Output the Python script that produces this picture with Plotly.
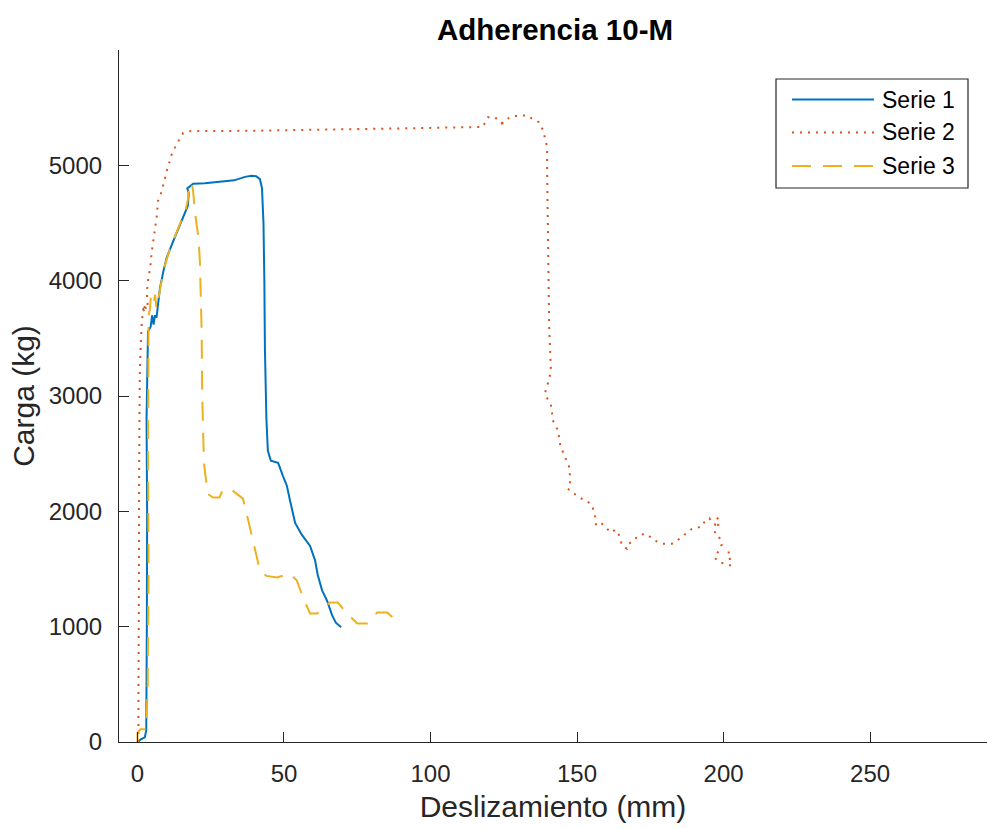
import plotly.graph_objects as go

# ---- data ----
s1_x = [0, 1, 2.5, 3.0, 3.2, 3.3, 3.1, 3.3, 3.6, 4.5, 5.0, 5.5, 6.0, 6.5, 7.0, 7.7, 9, 10, 12, 14, 16, 17.2, 17.5,
        17.0, 18, 19, 23, 30, 33, 36.7, 39, 40.5, 41.8, 42.5, 43, 43.3, 43.5, 44, 44.5, 45.5, 48, 49.6, 51, 52,
        53.8, 56, 58.9, 60.6, 61.5, 63, 64.7, 66.4, 67.7, 69.5]
s1_y = [0, 20, 40, 100, 1000, 2000, 2800, 3300, 3560, 3600, 3700, 3620, 3700, 3680, 3800, 3940, 4100, 4200, 4330,
        4450, 4580, 4650, 4760, 4800, 4820, 4840, 4845, 4860, 4870, 4900, 4910, 4905, 4880, 4800, 4500, 4000, 3400,
        2800, 2525, 2440, 2420, 2310, 2220, 2100, 1900, 1800, 1700, 1575, 1450, 1315, 1225, 1100, 1035, 995]

s2_x = [0.3, 0.3, 0.5, 0.6, 0.8, 1.2, 1.5, 2.0, 1.5, 2.5, 3.0, 2.2, 3.5, 3.2, 3.7, 4.3, 4.9, 6.0, 6.6, 7.0, 8.3,
        10, 11.7, 13.4, 15.6, 17.9, 40, 87.2, 110, 117.8, 119.6, 122, 123.5, 125.4, 124.5, 126, 127.8, 130, 132.7,
        135, 137, 138.4, 139, 139.8, 139.8, 140, 140.2, 140.5, 141.1, 140.5, 139, 141.1, 141.8, 143.5, 144.3,
        145.3, 146.4, 147.4, 147.7, 146.8, 148.9, 151.6, 154.8, 156.1, 156.5, 158.5, 159.9, 161.6, 163, 164,
        165.4, 167, 167.5, 169.1, 170.8, 173.2, 174.9, 176.6, 179.3, 182.4, 184.1, 186.9, 189.3, 192.7, 193.7,
        195.2, 196, 197.1, 197.7, 198.8, 196.9, 198.8, 199.4, 198.2, 196.9, 198.6, 200.9, 202.6, 202.2, 201.3,
        203.3]
s2_y = [0, 500, 1500, 2500, 3200, 3500, 3650, 3750, 3780, 3720, 3800, 3760, 3780, 3900, 4026, 4100, 4257, 4430,
        4560, 4690, 4776, 4950, 5097, 5184, 5281, 5296, 5300, 5319, 5330, 5333, 5417, 5417, 5380, 5339, 5370,
        5400, 5425, 5430, 5434, 5400, 5374, 5305, 5235, 5157, 4950, 4500, 4000, 3600, 3217, 3150, 3020, 2917,
        2787, 2700, 2569, 2510, 2440, 2379, 2258, 2198, 2155, 2110, 2065, 1979, 1875, 1892, 1858, 1815, 1840,
        1820, 1703, 1676, 1720, 1737, 1789, 1806, 1780, 1746, 1720, 1720, 1746, 1806, 1850, 1867, 1919, 1940,
        1902, 1885, 1945, 1920, 1807, 1764, 1712, 1651, 1599, 1558, 1539, 1530, 1584, 1642, 1642]

s3_x = [0, 0, 1, 3, 3.5, 3.8, 3.6, 3.7, 3.8, 4.3, 4.5, 5.5, 6.0, 6.5, 7.5, 7.7, 9, 11, 13, 15, 16.5, 17.2, 17.5,
        17.8, 18.6, 19.0, 19.6, 20.8, 21.3, 21.7, 21.9, 22.1, 22.7, 24.0, 25.8, 28, 29, 31.6, 34, 36, 38, 40.8,
        41.8, 44, 47.6, 52, 54.4, 56.5, 58.9, 61.3, 63, 65.7, 68.4, 71.5, 75, 78.4, 81.8, 85.2, 87.2]
s3_y = [0, 80, 110, 110, 500, 1500, 2500, 3300, 3700, 3760, 3850, 3780, 3880, 3760, 3900, 3950, 4100, 4270, 4400,
        4530, 4620, 4700, 4780, 4850, 4840, 4775, 4600, 4372, 4170, 3885, 3565, 3000, 2413, 2150, 2119, 2120,
        2180, 2197, 2150, 2110, 1900, 1600, 1487, 1440, 1427, 1461, 1400, 1253, 1114, 1114, 1160, 1209, 1209,
        1114, 1028, 1028, 1123, 1123, 1080]

series_names = ["Serie 1", "Serie 2", "Serie 3"]
colors = ["#0072BD", "#D95319", "#EDB120"]
dashes = ["solid", "2px,6px", "19px,12px"]

x_ticks = [0, 50, 100, 150, 200, 250]
y_ticks = [0, 1000, 2000, 3000, 4000, 5000]

FONT = "Liberation Sans, Arial, Helvetica, sans-serif"
AX = "#262626"

fig = go.Figure()
for xs, ys, name, c, d in zip([s1_x, s2_x, s3_x], [s1_y, s2_y, s3_y], series_names, colors, dashes):
    fig.add_trace(go.Scatter(x=xs, y=ys, mode="lines", name=name, showlegend=False,
                             line=dict(color=c, width=2, dash=d)))

W, H = 987, 829
L, R, T, B = 119, 0, 50, 87
pw, ph = W - L - R, H - T - B


def px(xp):
    return (xp - L) / pw


def py(yp):
    return (H - B - yp) / ph


# custom legend (MATLAB style)
fig.add_shape(type="rect", xref="paper", yref="paper", x0=px(776), x1=px(968), y0=py(188), y1=py(79),
              line=dict(color=AX, width=1.2), fillcolor="white", layer="above")
for i, (name, c, d) in enumerate(zip(series_names, colors, dashes)):
    yy = py([99.5, 132.5, 166][i])
    fig.add_shape(type="line", xref="paper", yref="paper", x0=px(792), x1=px(874), y0=yy, y1=yy,
                  line=dict(color=c, width=2, dash=d), layer="above")
    fig.add_annotation(xref="paper", yref="paper", x=px(880), y=yy, text=name, showarrow=False,
                       xanchor="left", yanchor="middle", font=dict(family=FONT, size=23, color="black"))

fig.update_layout(
    width=W, height=H,
    margin=dict(l=L, r=R, t=T, b=B),
    paper_bgcolor="white", plot_bgcolor="white",
    font=dict(family=FONT, color=AX),
    title=dict(text="<b>Adherencia 10-M</b>", x=(555) / W, xanchor="center",
               y=1 - 30 / H, yanchor="middle", yref="container",
               font=dict(family=FONT, size=29.5, color="black")),
    xaxis=dict(range=[-6.3, 289.9], tickvals=x_ticks, ticks="inside", ticklen=10, tickwidth=1.2,
               tickcolor=AX, showline=True, linecolor=AX, linewidth=1.2, showgrid=False, zeroline=False,
               tickfont=dict(family=FONT, size=24, color=AX), ticklabelstandoff=10, automargin=False,
               title=dict(text="Deslizamiento (mm)", font=dict(family=FONT, size=30, color=AX), standoff=10)),
    yaxis=dict(range=[0, 6000], tickvals=y_ticks, ticks="inside", ticklen=10, tickwidth=1.2,
               tickcolor=AX, showline=True, linecolor=AX, linewidth=1.2, showgrid=False, zeroline=False,
               tickfont=dict(family=FONT, size=24, color=AX), ticklabelstandoff=11, automargin=False,
               title=dict(text="Carga (kg)", font=dict(family=FONT, size=30, color=AX), standoff=5)),
)

fig.write_html("out.html")
